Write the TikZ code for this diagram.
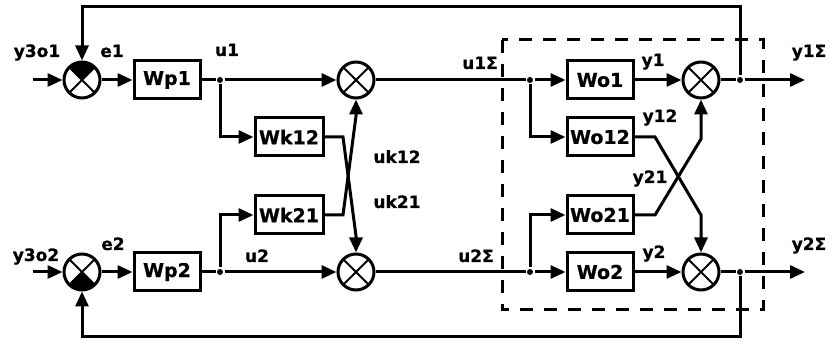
\documentclass[tikz,border=0pt]{standalone}
\usepackage{fontspec}
\setmainfont{DejaVu Sans}
\newfontfamily\labfont{DejaVu Sans Bold}[FakeBold=0.6]
\usetikzlibrary{arrows.meta,calc}
\begin{document}
\begin{tikzpicture}[x=1pt,y=1pt,
  line width=3pt,
  arr/.style={-{Triangle[length=15pt,width=13pt]}},
  blk/.style={draw, rectangle, minimum width=66pt, minimum height=38pt, inner sep=0pt, font=\fontsize{19}{21}\selectfont\labfont},
  sum/.style={draw, circle, minimum size=36pt, inner sep=0pt},
  dot/.style={circle, fill, inner sep=0pt, minimum size=6pt},
  lab/.style={font=\fontsize{17}{19}\selectfont\labfont, inner sep=0pt, anchor=base},
  xline/.style={line width=2pt},
  frame/.style={dash pattern=on 13pt off 11pt},
]
\fill[white] (0,0) rectangle (839,-344);
\useasboundingbox (0,0) rectangle (839,-344);

% summing junctions
\node[sum] (S1) at (82,-80) {};
\node[sum] (S2) at (82,-272) {};
\node[sum] (M1) at (356,-80) {};
\node[sum] (M2) at (356,-272) {};
\node[sum] (R1) at (701,-80) {};
\node[sum] (R2) at (701,-272) {};
\fill (S1.center) -- +(45:18) arc[start angle=45,end angle=135,radius=18] -- cycle;
\fill (S2.center) -- +(225:18) arc[start angle=225,end angle=315,radius=18] -- cycle;
\foreach \n in {S1,S2,M1,M2,R1,R2}{
  \draw[xline] (\n.center) +(45:17.5) -- +(225:17.5) +(135:17.5) -- +(315:17.5);
}

% blocks
\node[blk] (Wp1) at (167,-80) {Wp1};
\node[blk] (Wp2) at (167,-272) {Wp2};
\node[blk, minimum width=68pt] (Wk12) at (289,-137) {Wk12};
\node[blk, minimum width=68pt] (Wk21) at (289,-215) {Wk21};
\node[blk] (Wo1) at (600,-80) {Wo1};
\node[blk] (Wo12) at (600,-137) {Wo12};
\node[blk] (Wo21) at (600,-215) {Wo21};
\node[blk] (Wo2) at (600,-272) {Wo2};

% junction dots
\node[dot] (j1) at (220,-80) {};
\node[dot] (j2) at (220,-272) {};
\node[dot] (ja) at (530,-80) {};
\node[dot] (jb) at (530,-272) {};
\node[dot] (jo1) at (740,-80) {};
\node[dot] (jo2) at (740,-272) {};

% free ends and bends
\coordinate (in1) at (33,-80);
\coordinate (in2) at (33,-272);
\coordinate (out1) at (805,-80);
\coordinate (out2) at (805,-272);
\coordinate (t1) at (82,-7);
\coordinate (t2) at (82,-337);
\coordinate (c1) at (343,-137);
\coordinate (c1b) at (356,-236);
\coordinate (c2) at (343,-215);
\coordinate (c2b) at (356,-116);
\coordinate (d1) at (655,-137);
\coordinate (d1b) at (701,-215);
\coordinate (d2) at (655,-215);
\coordinate (d2b) at (701,-139);

% dashed frame
\draw[frame] (502,-40) rectangle (763,-310);

% connectors
\draw[arr] (in1) -- (S1);
\draw[arr] (S1) -- (Wp1);
\draw (Wp1) -- (j1);
\draw[arr] (j1) -- (M1);
\draw[arr] (j1) |- (Wk12);
\draw[arr] (in2) -- (S2);
\draw[arr] (S2) -- (Wp2);
\draw (Wp2) -- (j2);
\draw[arr] (j2) -- (M2);
\draw[arr] (j2) |- (Wk21);
\draw[arr] (Wk12) -- (c1) -- (c1b) -- (M2);
\draw[arr] (Wk21) -- (c2) -- (c2b) -- (M1);
\draw (M1) -- (ja);
\draw[arr] (ja) -- (Wo1);
\draw[arr] (ja) |- (Wo12);
\draw (M2) -- (jb);
\draw[arr] (jb) -- (Wo2);
\draw[arr] (jb) |- (Wo21);
\draw[arr] (Wo1) -- (R1);
\draw[arr] (Wo2) -- (R2);
\draw[arr] (Wo12) -- (d1) -- (d1b) -- (R2);
\draw[arr] (Wo21) -- (d2) -- (d2b) -- (R1);
\draw (R1) -- (jo1);
\draw[arr] (jo1) -- (out1);
\draw (R2) -- (jo2);
\draw[arr] (jo2) -- (out2);
\draw[arr] (jo1) |- (t1) -- (S1);
\draw[arr] (jo2) |- (t2) -- (S2);

% labels
\node[lab] at (37,-57) {y3o1};
\node[lab] at (112,-57) {e1};
\node[lab] at (227,-56) {u1};
\node[lab] at (480,-69) {u1Σ};
\node[lab] at (397,-163) {uk12};
\node[lab] at (397,-208) {uk21};
\node[lab] at (36,-261) {y3o2};
\node[lab] at (113,-250) {e2};
\node[lab] at (257,-262) {u2};
\node[lab] at (476,-262) {u2Σ};
\node[lab] at (653,-66) {y1};
\node[lab] at (660,-122) {y12};
\node[lab] at (650,-183) {y21};
\node[lab] at (654,-258) {y2};
\node[lab] at (809,-57) {y1Σ};
\node[lab] at (809,-250) {y2Σ};
\end{tikzpicture}
\end{document}
